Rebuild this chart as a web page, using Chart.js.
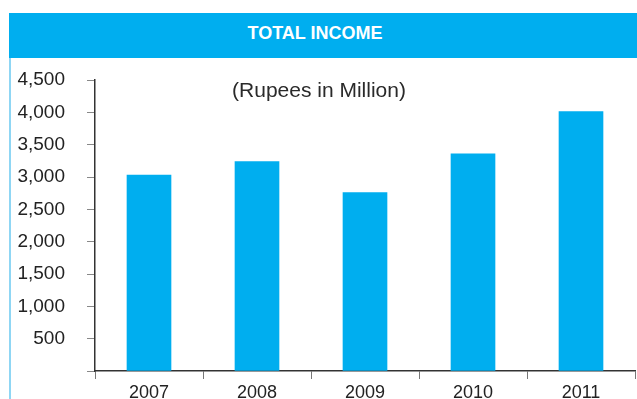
<!DOCTYPE html>
<html>
<head>
<meta charset="utf-8">
<script src="https://cdn.jsdelivr.net/npm/chart.js@4/dist/chart.umd.min.js"></script>
<style>
    body { margin: 0; background: #fff; width: 637px; height: 399px; overflow: hidden; position: relative; font-family: "Liberation Sans", Arial, sans-serif; }
    #header {
        position: absolute; left: 9px; top: 13px; width: 628px; height: 45px;
        background: #00AEEF; color: #fff; font-weight: bold; font-size: 18px;
        display: flex; align-items: center; justify-content: center;
        padding-right: 16px; padding-bottom: 4px; box-sizing: border-box;
    }
    #leftLine { position: absolute; left: 9px; top: 58px; width: 2px; height: 341px; background: #8fd6f4; }
    #unit { position: absolute; left: 0; width: 638px; top: 78px; text-align: center; font-size: 21px; color: #2a2a2a; }
    #incomeChart { position: absolute; left: 0; top: 0; }
</style>
</head>
<body>
<div id="header">TOTAL INCOME</div>
<div id="leftLine"></div>
<canvas id="incomeChart" width="637" height="399"></canvas>
<div id="unit">(Rupees in Million)</div>
<script>
const years = ['2007', '2008', '2009', '2010', '2011'];
const income = [3030, 3240, 2760, 3360, 4010];
const yTicks = [0, 500, 1000, 1500, 2000, 2500, 3000, 3500, 4000, 4500];

const ctx = document.getElementById('incomeChart').getContext('2d');

new Chart(ctx, {
    type: 'bar',
    data: {
        labels: years,
        datasets: [{
            label: 'Total Income',
            data: income,
            backgroundColor: '#00AEEF',
            barThickness: 44
        }]
    },
    options: {
        responsive: false,
        animation: false,
        layout: { padding: { top: 80, right: 2, left: 0, bottom: 0 } },
        plugins: {
            legend: { display: false },
            tooltip: { enabled: false }
        },
        scales: {
            x: {
                afterFit: scale => { scale.height = 28; },
                grid: { offset: true, drawOnChartArea: false, drawTicks: true, tickLength: 8, color: '#777' },
                border: { display: true, color: '#333', width: 1.5 },
                ticks: { color: '#222', font: { family: 'Liberation Sans', size: 18 }, padding: 3, maxRotation: 0 }
            },
            y: {
                min: 0,
                max: 4500,
                // fixed axis width, and no extra label padding pushing the x axis up
                afterFit: scale => {
                    scale.width = 95;
                    scale.paddingTop = 0;
                    scale.paddingBottom = 0;
                },
                afterBuildTicks: scale => { scale.ticks = yTicks.map(v => ({ value: v })); },
                grid: { drawOnChartArea: false, drawTicks: true, tickLength: 8, color: '#888' },
                border: { display: true, color: '#333', width: 1.5 },
                ticks: {
                    color: '#222',
                    font: { family: 'Liberation Sans', size: 19 },
                    padding: 22,
                    callback: v => v === 0 ? '' : v.toLocaleString('en-US')
                }
            }
        }
    }
});
</script>
</body>
</html>
